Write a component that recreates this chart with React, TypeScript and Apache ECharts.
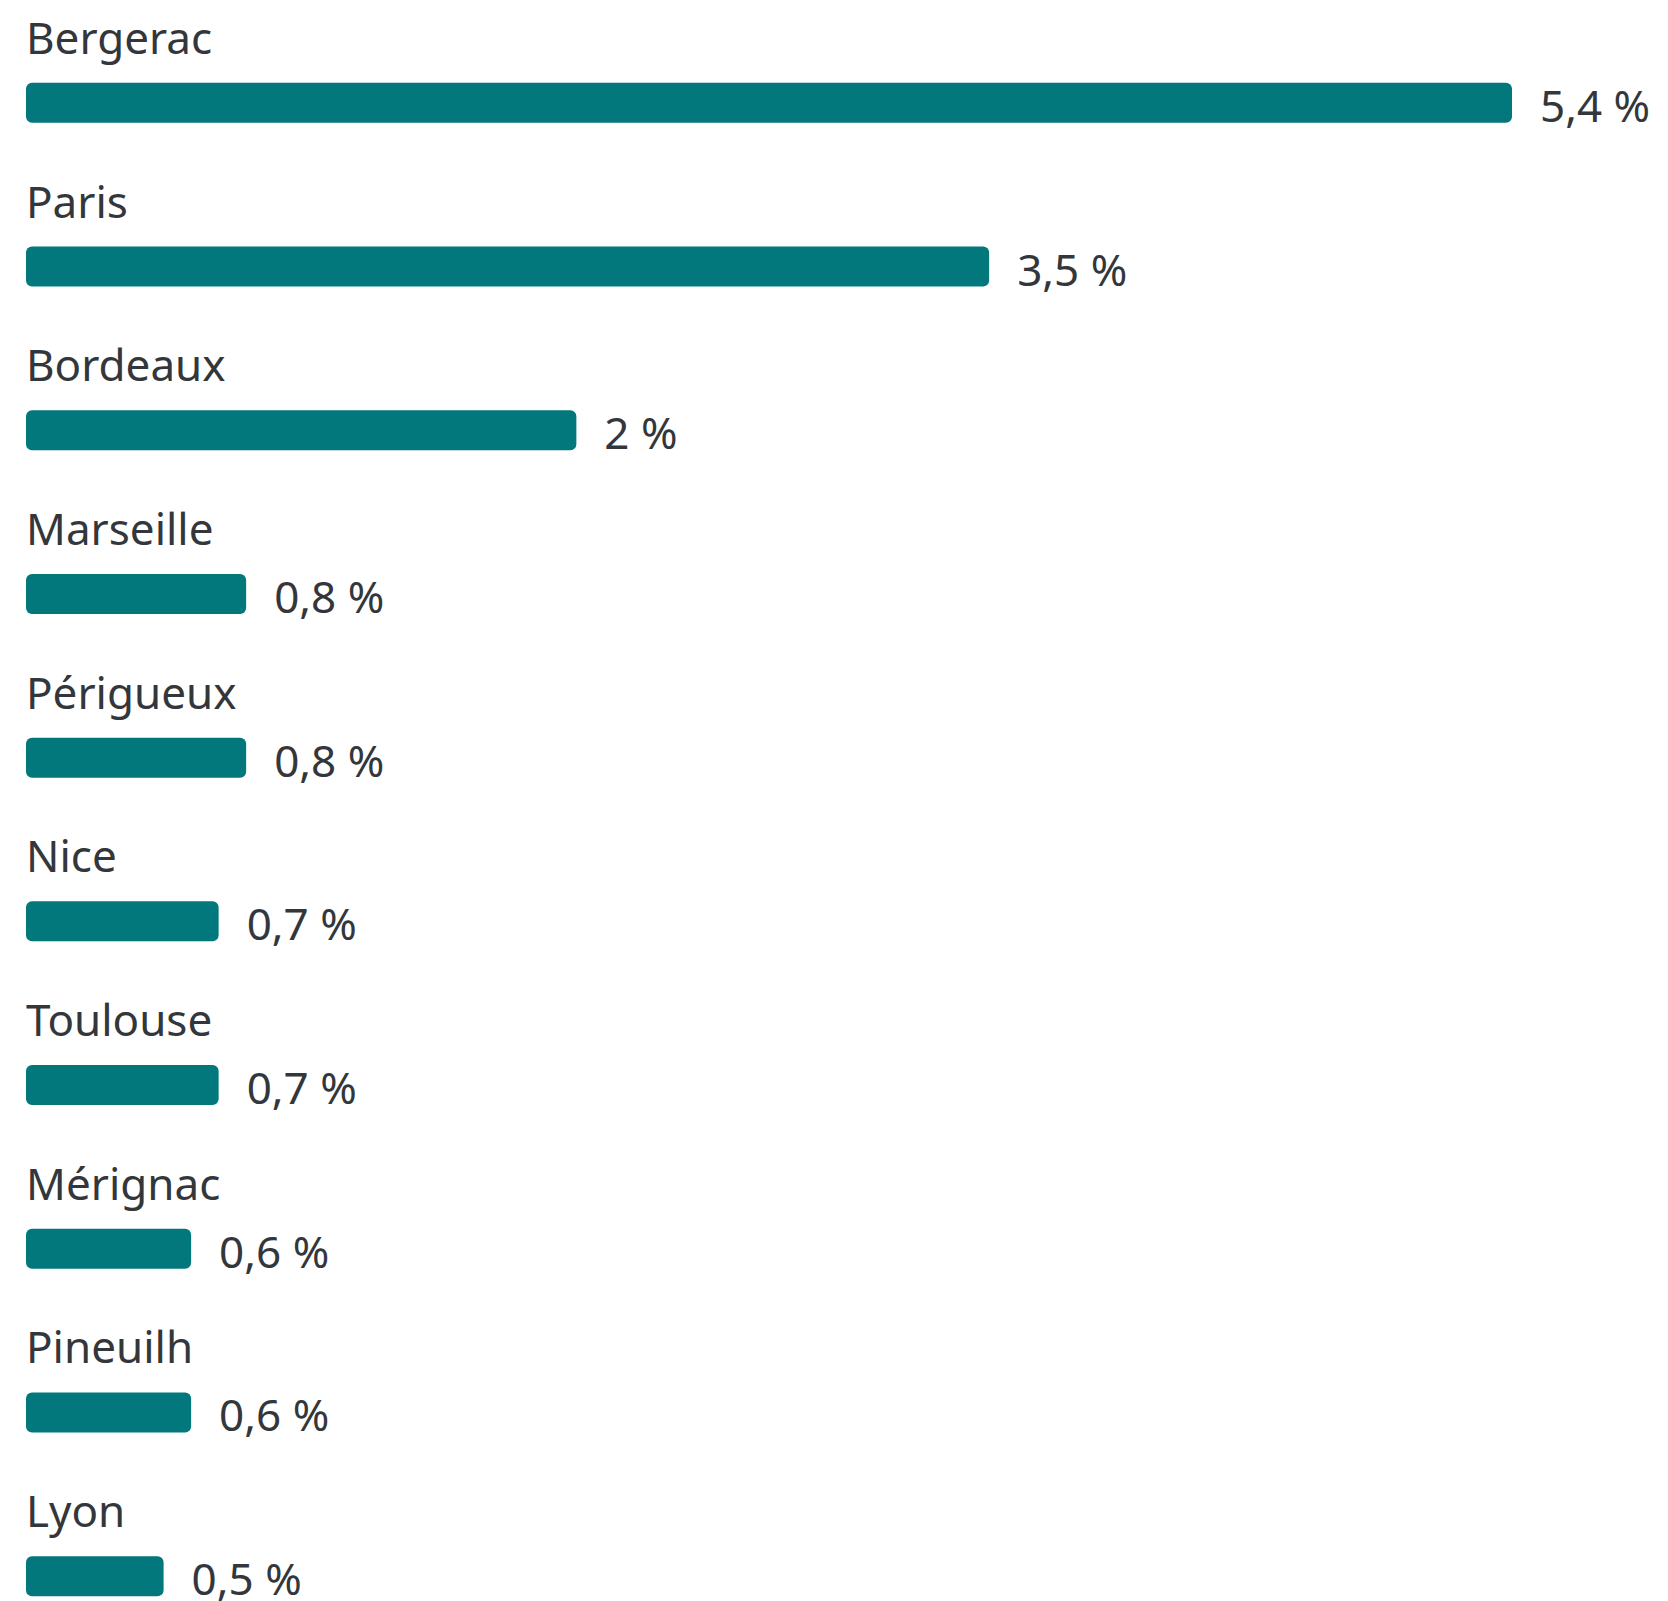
import React, { useEffect, useRef } from "react";
import * as echarts from "echarts";

const categories = [
  "Bergerac",
  "Paris",
  "Bordeaux",
  "Marseille",
  "Périgueux",
  "Nice",
  "Toulouse",
  "Mérignac",
  "Pineuilh",
  "Lyon",
];
const values = [5.4, 3.5, 2, 0.8, 0.8, 0.7, 0.7, 0.6, 0.6, 0.5];

const FONT = '"Segoe UI", "Noto Sans", "Open Sans", sans-serif';
const TEXT = "#33373b";
const TEAL = "#03787c";

export default function App() {
  const ref = useRef<HTMLDivElement>(null);
  useEffect(() => {
    if (!ref.current) return;
    const chart = echarts.init(ref.current, undefined, { renderer: "svg" });
    chart.setOption({
      animation: false,
      backgroundColor: "#ffffff",
      grid: { left: 26, top: 21, width: 1486, height: 1637 },
      xAxis: { type: "value", min: 0, max: 5.4, show: false },
      yAxis: {
        type: "category",
        data: categories,
        inverse: true,
        show: false,
      },
      series: [
        {
          type: "bar",
          data: values,
          barWidth: 40,
          itemStyle: { color: TEAL, borderRadius: 6 },
          label: {
            show: true,
            position: "right",
            distance: 28,
            offset: [0, 2],
            fontFamily: FONT,
            fontSize: 44,
            color: TEXT,
            formatter: (p: any) => String(p.value).replace(".", ",") + " %",
          },
          silent: true,
        },
        {
          type: "bar",
          data: values,
          barWidth: 40,
          barGap: "-100%",
          itemStyle: { color: "rgba(0,0,0,0)" },
          label: {
            show: true,
            position: [0, -46],
            align: "left",
            verticalAlign: "middle",
            fontFamily: FONT,
            fontSize: 44,
            color: TEXT,
            formatter: "{b}",
          },
          silent: true,
        },
      ],
    });
    return () => chart.dispose();
  }, []);
  return (
    <div
      ref={ref}
      style={{ position: "fixed", left: 0, top: 0, width: 1668, height: 1680 }}
    />
  );
}
